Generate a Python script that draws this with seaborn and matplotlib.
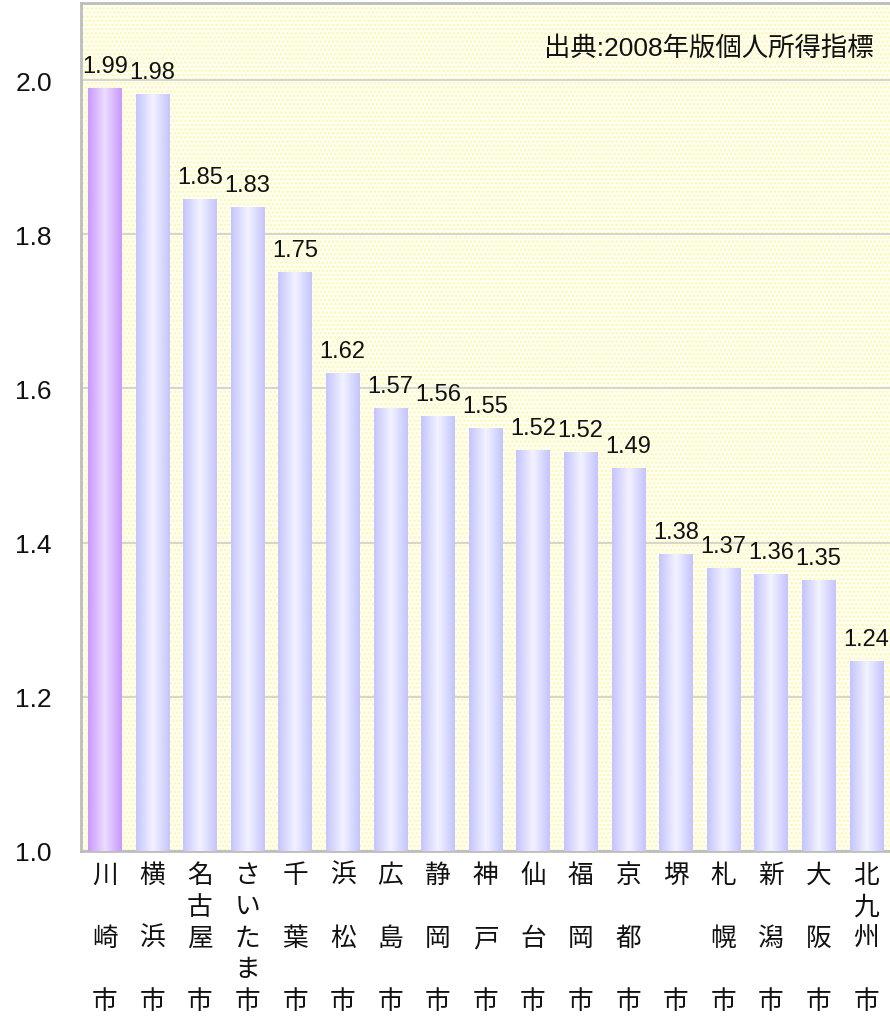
import numpy as np
import pandas as pd
import matplotlib
matplotlib.use("Agg")
import matplotlib.pyplot as plt
import seaborn as sns
from matplotlib.colors import LinearSegmentedColormap
from matplotlib.patches import Rectangle

cities = ["川崎市", "横浜市", "名古屋市", "さいたま市", "千葉市", "浜松市", "広島市", "静岡市",
          "神戸市", "仙台市", "福岡市", "京都市", "堺市", "札幌市", "新潟市", "大阪市", "北九州市"]
values = [1.99, 1.982, 1.846, 1.835, 1.751, 1.62, 1.575, 1.564, 1.549, 1.52, 1.518, 1.497,
          1.385, 1.367, 1.359, 1.351, 1.246]
value_labels = ["1.99", "1.98", "1.85", "1.83", "1.75", "1.62", "1.57", "1.56", "1.55", "1.52",
                "1.52", "1.49", "1.38", "1.37", "1.36", "1.35", "1.24"]
y_ticks = [1.0, 1.2, 1.4, 1.6, 1.8, 2.0]
source_note = "出典:2008年版個人所得指標"

sns.set_theme(style="white")
plt.rcParams['font.family'] = ['Liberation Sans', 'Noto Sans CJK JP', 'DejaVu Sans']
plt.rcParams['hatch.color'] = '#FCF8B0'
plt.rcParams['hatch.linewidth'] = 1.2

df = pd.DataFrame({"city": cities, "value": values})

fig = plt.figure(figsize=(8.9, 10.2), dpi=100)
ax = fig.add_axes([81 / 890, (1020 - 852) / 1020, 1 - 81 / 890, (852 - 4) / 1020])
ax.set_facecolor("#FFFFF4")
ax.add_patch(Rectangle((0, 0), 1, 1, transform=ax.transAxes, facecolor="none",
                       hatch="....", edgecolor="#FCF8B0", linewidth=0, zorder=0.5))

sns.barplot(data=df, x="city", y="value", ax=ax, color="#D8D8FF", width=0.7,
            saturation=1, edgecolor="none", zorder=3)

blue_cmap = LinearSegmentedColormap.from_list("b", ["#C4C4FF", "#F2F2FF", "#C4C4FF"])
purple_cmap = LinearSegmentedColormap.from_list("p", ["#C898FF", "#ECDDFF", "#C898FF"])
grad = np.linspace(0, 1, 256).reshape(1, -1)
for i, patch in enumerate(ax.patches[1:]):
    x0 = patch.get_x()
    w = patch.get_width()
    h = patch.get_height()
    y0 = patch.get_y()
    cmap = purple_cmap if i == 0 else blue_cmap
    im = ax.imshow(grad, cmap=cmap, aspect="auto", extent=[x0, x0 + w, 1.0, y0 + h],
                   zorder=4, interpolation="bicubic")
    im.set_clip_path(patch)
    patch.set_facecolor("none")
    ax.annotate(value_labels[i], (x0 + w / 2, y0 + h), xytext=(0, 8),
                textcoords="offset points", ha="center", va="bottom",
                fontsize=17, color="#111111", zorder=6)
ax.set_ylim(1.0, 2.1)
ax.set_xlim(-0.5, len(cities) - 0.5)

ax.set_yticks(y_ticks)
ax.set_yticklabels([f"{t:.1f}" for t in y_ticks], fontsize=19, color="#111111")
ax.yaxis.grid(True, color="#D6D6CC", linewidth=1.5, zorder=1)
ax.set_axisbelow(True)


def vertical_label(name):
    chars = list(name)
    if len(chars) == 2:
        rows = [chars[0], "", "", "", chars[1]]
    elif len(chars) == 3:
        rows = [chars[0], "", chars[1], "", chars[2]]
    elif len(chars) == 4:
        rows = [chars[0], chars[1], chars[2], "", chars[3]]
    else:
        rows = chars
    return "\n".join(r if r else " " for r in rows)


ax.set_xticks(range(len(cities)))
ax.set_xticklabels([vertical_label(c) for c in cities], fontsize=18.5, color="#111111",
                   linespacing=1.27, va="top", family=['Noto Sans CJK JP', 'DejaVu Sans'])
ax.tick_params(axis="x", length=0, pad=8)
ax.tick_params(axis="y", length=0, pad=21)
ax.set_xlabel("")
ax.set_ylabel("")

for side in ["left", "top", "bottom"]:
    ax.spines[side].set_visible(True)
    ax.spines[side].set_color("#BDBDBD")
    ax.spines[side].set_linewidth(2)
ax.spines["right"].set_visible(False)

ax.text(0.98, 0.947, source_note, transform=ax.transAxes, ha="right", va="center",
        fontsize=19, color="#111111", zorder=7)

fig.savefig("out.png", dpi=100)
